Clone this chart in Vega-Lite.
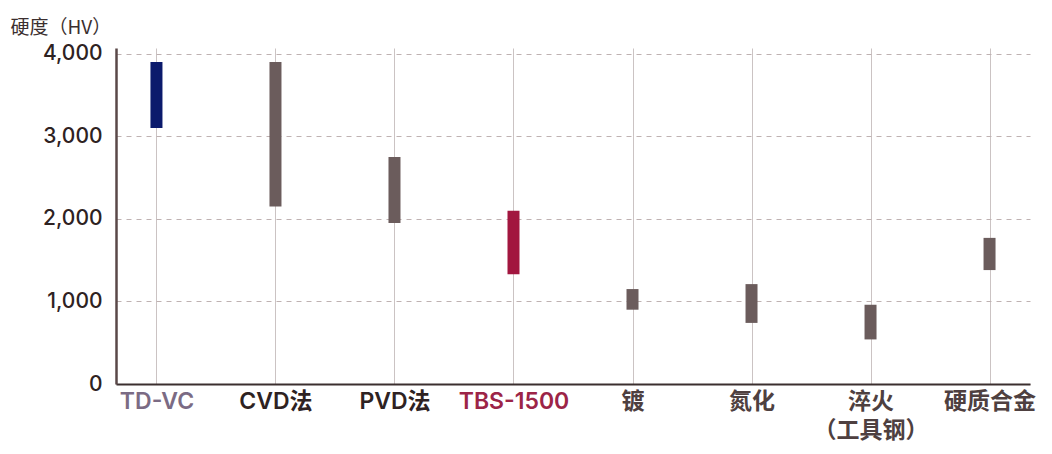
{
  "$schema": "https://vega.github.io/schema/vega-lite/v6.json",
  "width": 914,
  "height": 336,
  "autosize": {"type": "none"},
  "padding": {"left": 116, "top": 48, "right": 22, "bottom": 70},
  "background": "#ffffff",
  "config": {"view": {"stroke": null}},
  "data": {
    "values": [
      {"material": "TD-VC", "low": 3100, "high": 3900, "group": "TD"},
      {"material": "CVD法", "low": 2150, "high": 3900, "group": "other"},
      {"material": "PVD法", "low": 1950, "high": 2750, "group": "other"},
      {"material": "TBS-1500", "low": 1330, "high": 2100, "group": "TBS"},
      {"material": "镀", "low": 900, "high": 1150, "group": "other"},
      {"material": "氮化", "low": 740, "high": 1210, "group": "other"},
      {"material": "淬火（工具钢）", "low": 540, "high": 960, "group": "other"},
      {"material": "硬质合金", "low": 1380, "high": 1770, "group": "other"}
    ]
  },
  "mark": {"type": "rule", "strokeWidth": 12, "strokeCap": "butt"},
  "encoding": {
    "x": {
      "field": "material",
      "type": "nominal",
      "sort": null,
      "scale": {"type": "point", "padding": 0.34},
      "axis": {
        "title": null,
        "domain": true,
        "domainColor": "#3b2f2f",
        "domainWidth": 2,
        "ticks": false,
        "grid": true,
        "gridColor": "#cbc3c3",
        "gridWidth": 1,
        "labelAngle": 0,
        "labelFont": "Inter, Noto Sans CJK SC",
        "labelFontSize": 23,
        "labelFontWeight": 600,
        "labelPadding": 6,
        "labelLineHeight": 29,
        "labelOverlap": false,
        "labelBound": false,
        "labelExpr": "datum.value == '淬火（工具钢）' ? ['淬火', '（工具钢）'] : datum.value",
        "labelColor": {"expr": "datum.value == 'TD-VC' ? '#7b6b84' : datum.value == 'TBS-1500' ? '#9c2447' : (datum.value == 'CVD法' || datum.value == 'PVD法') ? '#2e2222' : '#4e4040'"}
      }
    },
    "y": {
      "field": "low",
      "type": "quantitative",
      "scale": {"domain": [0, 4070], "nice": false, "zero": true},
      "axis": {
        "title": "硬度（HV）",
        "titleAngle": 0,
        "titleX": -106,
        "titleY": -21,
        "titleAlign": "left",
        "titleBaseline": "middle",
        "titleFont": "Noto Sans CJK SC",
        "titleFontSize": 19,
        "titleFontWeight": "normal",
        "titleColor": "#3b2f2f",
        "values": [0, 1000, 2000, 3000, 4000],
        "format": ",.0f",
        "domain": true,
        "domainColor": "#5a4848",
        "domainWidth": 2.5,
        "ticks": false,
        "grid": true,
        "gridColor": "#bfb2b2",
        "gridDash": [5, 5],
        "gridWidth": 1,
        "labelFont": "Inter",
        "labelFontSize": 21,
        "labelFontWeight": 500,
        "labelColor": "#2e2222",
        "labelPadding": 14
      }
    },
    "y2": {"field": "high"},
    "color": {
      "field": "group",
      "type": "nominal",
      "scale": {"domain": ["TD", "TBS", "other"], "range": ["#0b1a6c", "#a2163f", "#6b5c5c"]},
      "legend": null
    }
  }
}
